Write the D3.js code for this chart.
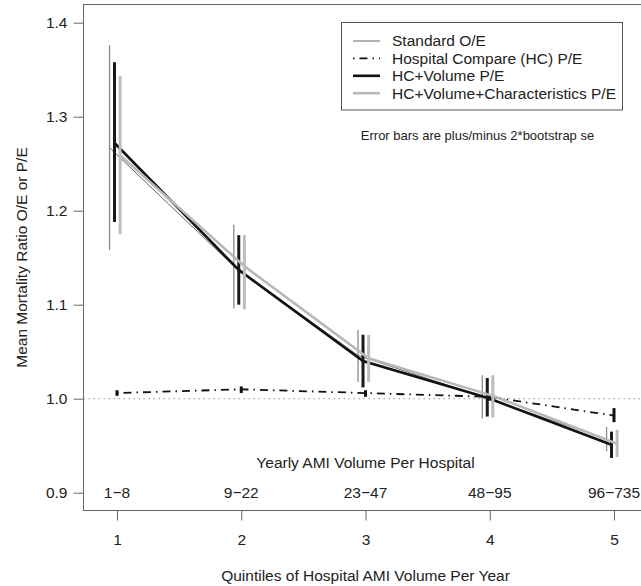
<!DOCTYPE html>
<html>
<head>
<meta charset="utf-8">
<script src="https://cdn.jsdelivr.net/npm/d3@7/dist/d3.min.js"></script>
<style>
  html, body { margin: 0; padding: 0; background: #fff; }
  svg { display: block; font-family: "Liberation Sans", Arial, sans-serif; }
</style>
</head>
<body>
<svg id="chart" width="641" height="586"></svg>
<script>
// ---- data ----
const quintiles = [1, 2, 3, 4, 5];
const volumeLabels = ["1\u22128", "9\u221222", "23\u221247", "48\u221295", "96\u2212735"];
const yTicks = [0.9, 1.0, 1.1, 1.2, 1.3, 1.4];

const standardOE   = [1.267, 1.141, 1.046, 1.002, 0.957];
const standardLo   = [1.158, 1.096, 1.018, 0.979, 0.944];
const standardHi   = [1.376, 1.185, 1.073, 1.025, 0.970];

const hcPE         = [1.006, 1.010, 1.006, 1.002, 0.982];
const hcLo         = [1.003, 1.006, 1.002, 0.998, 0.975];
const hcHi         = [1.009, 1.013, 1.009, 1.005, 0.990];

const hcVolPE      = [1.272, 1.137, 1.040, 1.001, 0.951];
const hcVolLo      = [1.188, 1.100, 1.012, 0.981, 0.937];
const hcVolHi      = [1.358, 1.174, 1.068, 1.022, 0.965];

const hcVolCharPE  = [1.259, 1.141, 1.043, 1.003, 0.952];
const hcVolCharLo  = [1.175, 1.095, 1.018, 0.980, 0.938];
const hcVolCharHi  = [1.343, 1.174, 1.068, 1.025, 0.967];

const seriesNames = ["Standard O/E", "Hospital Compare (HC) P/E", "HC+Volume P/E", "HC+Volume+Characteristics P/E"];

// ---- layout ----
const svg = d3.select("#chart");
const x = d3.scaleLinear().domain([1, 5]).range([117, 614]);
const y = d3.scaleLinear().domain([0.9, 1.4]).range([492.7, 22.7]);
const box = { left: 83.5, top: 4.5, right: 648.5, bottom: 510.5 };
const textCol = "#222";
const axisCol = "#666";
const fs = 15.5;

const series = [
  { name: seriesNames[0], v: standardOE, lo: standardLo, hi: standardHi, off: -0.06, color: "#666", lw: 1, barW: 1.3, barColor: "#8a8a8a", dash: null },
  { name: seriesNames[1], v: hcPE, lo: hcLo, hi: hcHi, off: 0.0, color: "#111", lw: 1.8, barW: 3, barColor: "#111", dash: "1.5,5,8,5" },
  { name: seriesNames[2], v: hcVolPE, lo: hcVolLo, hi: hcVolHi, off: -0.02, color: "#111", lw: 2.6, barW: 3, barColor: "#1a1a1a", dash: null },
  { name: seriesNames[3], v: hcVolCharPE, lo: hcVolCharLo, hi: hcVolCharHi, off: 0.025, color: "#b8b8b8", lw: 2.6, barW: 3, barColor: "#bdbdbd", dash: null }
];

// plot box
svg.append("rect")
  .attr("x", box.left).attr("y", box.top)
  .attr("width", box.right - box.left).attr("height", box.bottom - box.top)
  .attr("fill", "none").attr("stroke", axisCol).attr("stroke-width", 1);

// reference line at 1.0
svg.append("line")
  .attr("x1", box.left).attr("x2", box.right)
  .attr("y1", y(1.0)).attr("y2", y(1.0))
  .attr("stroke", "#aaa").attr("stroke-width", 1.2)
  .attr("stroke-dasharray", "1.5,3.5");

// y axis
const yAxis = svg.append("g")
  .attr("transform", `translate(${box.left},0)`)
  .call(d3.axisLeft(y).tickValues(yTicks).tickSize(10).tickPadding(6).tickFormat(d3.format(".1f")));
yAxis.select(".domain").remove();
yAxis.selectAll(".tick line").attr("stroke", axisCol);
yAxis.selectAll(".tick text").attr("fill", textCol).style("font-size", fs + "px").style("font-family", "Liberation Sans, Arial, sans-serif");

// x axis
const xAxis = svg.append("g")
  .attr("transform", `translate(0,${box.bottom})`)
  .call(d3.axisBottom(x).tickValues(quintiles).tickSize(10).tickPadding(13).tickFormat(d3.format("d")));
xAxis.select(".domain").remove();
xAxis.selectAll(".tick line").attr("stroke", axisCol);
xAxis.selectAll(".tick text").attr("fill", textCol).style("font-size", fs + "px").style("font-family", "Liberation Sans, Arial, sans-serif");

// axis titles
svg.append("text")
  .attr("x", x(3)).attr("y", 581)
  .attr("text-anchor", "middle").attr("fill", textCol).style("font-size", fs + "px")
  .text("Quintiles of Hospital AMI Volume Per Year");
svg.append("text")
  .attr("transform", `translate(27,${(box.top + box.bottom) / 2}) rotate(-90)`)
  .attr("text-anchor", "middle").attr("fill", textCol).style("font-size", fs + "px")
  .text("Mean Mortality Ratio O/E or P/E");

// volume labels inside plot
svg.append("text")
  .attr("x", x(3)).attr("y", 462.7).attr("dy", "0.35em")
  .attr("text-anchor", "middle").attr("fill", textCol).style("font-size", fs + "px")
  .text("Yearly AMI Volume Per Hospital");
svg.selectAll("text.vol").data(volumeLabels).enter().append("text")
  .attr("class", "vol")
  .attr("x", (d, i) => x(quintiles[i])).attr("y", y(0.9)).attr("dy", "0.35em")
  .attr("text-anchor", "middle").attr("fill", textCol).style("font-size", fs + "px")
  .text(d => d);

// series lines + error bars
const line = d3.line();
series.forEach(s => {
  const pts = quintiles.map((q, i) => [x(q + s.off), y(s.v[i])]);
  const p = svg.append("path")
    .attr("d", line(pts)).attr("fill", "none")
    .attr("stroke", s.color).attr("stroke-width", s.lw);
  if (s.dash) p.attr("stroke-dasharray", s.dash);
  svg.selectAll(null).data(quintiles).enter().append("line")
    .attr("x1", (q) => x(q + s.off)).attr("x2", (q) => x(q + s.off))
    .attr("y1", (q, i) => y(s.lo[i])).attr("y2", (q, i) => y(s.hi[i]))
    .attr("stroke", s.barColor).attr("stroke-width", s.barW);
});

// legend
const lg = svg.append("g");
lg.append("rect")
  .attr("x", 341.5).attr("y", 22.5).attr("width", 281).attr("height", 87.5)
  .attr("fill", "#fff").attr("stroke", "#555").attr("stroke-width", 1);
series.forEach((s, i) => {
  const ly = 41 + i * 17.4;
  const l = lg.append("line")
    .attr("x1", 353).attr("x2", 380).attr("y1", ly).attr("y2", ly)
    .attr("stroke", s.color).attr("stroke-width", s.lw);
  if (s.dash) l.attr("stroke-dasharray", s.dash);
  lg.append("text")
    .attr("x", 392).attr("y", ly).attr("dy", "0.35em")
    .attr("fill", textCol).style("font-size", fs + "px")
    .text(s.name);
});

svg.append("text")
  .attr("x", 477.5).attr("y", 135).attr("dy", "0.35em")
  .attr("text-anchor", "middle").attr("fill", textCol).style("font-size", "13px")
  .text("Error bars are plus/minus 2*bootstrap se");
</script>
</body>
</html>
